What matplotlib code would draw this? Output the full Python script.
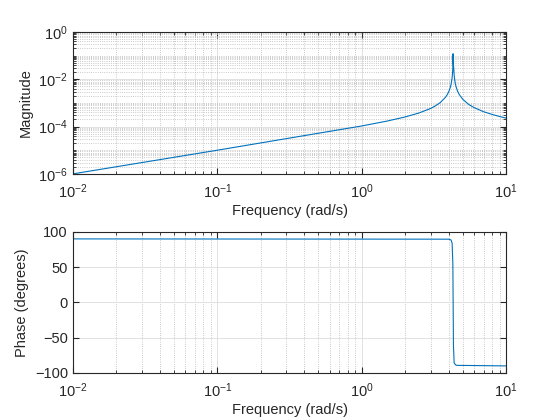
from matplotlib import pyplot as plt
from matplotlib.ticker import LogLocator, FixedLocator, NullFormatter
import numpy as np

# values
freq_mag = [0.01, 0.1, 1.0, 1.5, 2.0, 2.5, 3.0, 3.2, 3.5, 3.8, 3.9, 4.0, 4.1, 4.15,
            4.2, 4.22, 4.25, 4.27, 4.285, 4.3, 4.33, 4.36, 4.4, 4.45, 4.5, 4.6,
            4.7, 5.0, 5.5, 6.0, 7.0, 8.0, 9.0, 10.0]
magnitude = [1.0e-6, 1.0e-5, 1.06e-4, 1.71e-4, 2.55e-4, 3.78e-4, 5.85e-4, 7.2e-4,
             1.04e-3, 1.74e-3, 2.2e-3, 2.98e-3, 4.5e-3, 6.1e-3, 9.2e-3, 1.15e-2,
             1.86e-2, 3.1e-2, 1.2e-1, 4.5e-2, 3.0e-2, 1.5e-2, 9.3e-3, 6.2e-3,
             4.7e-3, 3.2e-3, 2.4e-3, 1.42e-3, 8.6e-4, 6.3e-4, 4.2e-4, 3.25e-4,
             2.66e-4, 2.27e-4]

freq_ph = [0.01, 4.0, 4.15, 4.22, 4.27, 4.29, 4.31, 4.36, 4.5, 10.0]
phase = [90, 89.6, 88.5, 84, 55, 0, -60, -86, -89.2, -90]

plt.rcParams['font.family'] = ['Liberation Sans', 'DejaVu Sans']
plt.rcParams['mathtext.fontset'] = 'custom'
plt.rcParams['mathtext.rm'] = 'Liberation Sans'
plt.rcParams['mathtext.it'] = 'Liberation Sans'
plt.rcParams['font.size'] = 10.5

edge = '#262626'
blue = '#0072BD'

fig = plt.figure(figsize=(5.6, 4.2), dpi=100)
ax1 = fig.add_axes([0.130, 0.586, 0.774, 0.338])
ax2 = fig.add_axes([0.130, 0.112, 0.774, 0.336])


def style(ax):
    ax.set_xscale('log')
    ax.set_xlim(0.01, 10)
    ax.xaxis.set_minor_locator(LogLocator(base=10, subs=np.arange(2, 10)))
    ax.xaxis.set_minor_formatter(NullFormatter())
    ax.tick_params(which='both', direction='in', top=True, right=True,
                   color=edge, labelcolor=edge)
    ax.tick_params(which='major', length=4)
    ax.tick_params(which='minor', length=2)
    ax.tick_params(axis='x', which='major', pad=6)
    for s in ax.spines.values():
        s.set_color(edge)
        s.set_linewidth(0.8)
    ax.grid(True, which='major', color='#dcdcdc', linestyle='-', linewidth=0.6)
    ax.set_axisbelow(True)
    ax.set_xlabel('Frequency (rad/s)', color=edge, labelpad=2)


# magnitude
style(ax1)
ax1.plot(freq_mag, magnitude, color=blue, linewidth=0.8)
ax1.set_yscale('log')
ax1.set_ylim(1e-6, 1)
ax1.yaxis.set_major_locator(FixedLocator([1e-6, 1e-4, 1e-2, 1e0]))
ax1.yaxis.set_minor_locator(LogLocator(base=10, subs=np.arange(1, 10), numticks=50))
ax1.yaxis.set_minor_formatter(NullFormatter())
ax1.grid(True, which='minor', color='#b8b8b8', linestyle=':', linewidth=0.6)
ax1.set_ylabel('Magnitude', color=edge)

# phase
style(ax2)
ax2.plot(freq_ph, phase, color=blue, linewidth=0.8)
ax2.set_ylim(-100, 100)
ax2.set_yticks([-100, -50, 0, 50, 100])
ax2.grid(True, which='minor', axis='x', color='#b8b8b8', linestyle=':', linewidth=0.6)
ax2.set_ylabel('Phase (degrees)', color=edge)

fig.savefig('out.png', dpi=100)
